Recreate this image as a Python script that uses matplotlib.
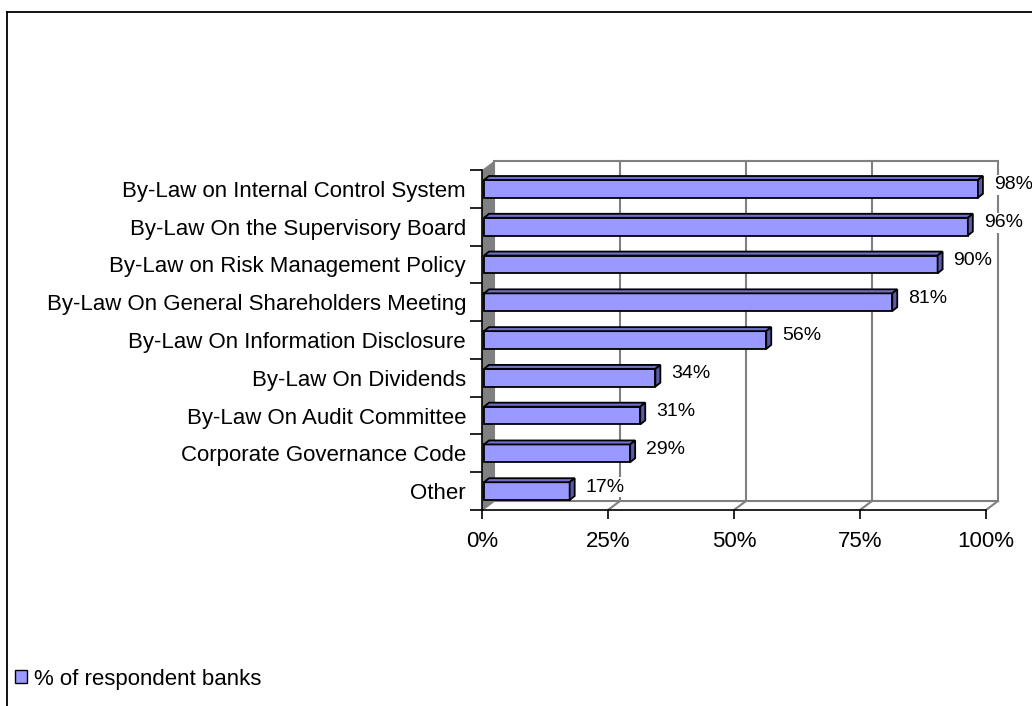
import numpy as np
import matplotlib
matplotlib.use("Agg")
import matplotlib.pyplot as plt
from matplotlib.patches import Rectangle, Polygon, Patch
from matplotlib.lines import Line2D
from matplotlib.transforms import Affine2D, IdentityTransform
from matplotlib.ticker import FixedLocator, FuncFormatter

plt.rcParams['font.family'] = ['Liberation Sans', 'DejaVu Sans']

# data (top to bottom)
categories = ["By-Law on Internal Control System",
              "By-Law On the Supervisory Board",
              "By-Law on Risk Management Policy",
              "By-Law On General Shareholders Meeting",
              "By-Law On Information Disclosure",
              "By-Law On Dividends",
              "By-Law On Audit Committee",
              "Corporate Governance Code",
              "Other"]
values = [98, 96, 90, 81, 56, 34, 31, 29, 17]
xticks = [0, 25, 50, 75, 100]
series_name = "% of respondent banks"

W, H = 1032, 706
fig = plt.figure(figsize=(W / 100, H / 100), dpi=100)

# outer frame (top and left only visible)
fig.add_artist(Line2D([7 / W, 1], [1 - 12 / H, 1 - 12 / H], transform=fig.transFigure, color='black', lw=1.3))
fig.add_artist(Line2D([7 / W, 7 / W], [0, 1 - 12 / H], transform=fig.transFigure, color='black', lw=1.3))

ax = fig.add_axes([482 / W, (H - 510) / H, 504 / W, 340 / H])
ax.patch.set_visible(False)
n = len(categories)
ax.set_xlim(0, 100)
ax.set_ylim(n - 0.5, -0.5)
ax.set_autoscale_on(False)

# 3D depth (pixels)
DX, DY = 12, 9
back = ax.transData + Affine2D().translate(DX, DY)
ident = IdentityTransform()
grey = '#808080'

def disp(x, y, ox=0, oy=0):
    p = ax.transData.transform((x, y))
    return (p[0] + ox, p[1] + oy)

# back wall + gridlines
ax.add_patch(Rectangle((0, -0.5), 100, n, transform=back, facecolor='white',
                       edgecolor=grey, lw=1.5, zorder=0, clip_on=False))
for g in xticks[1:-1]:
    ax.plot([g, g], [-0.5, n - 0.5], transform=back, color=grey, lw=1.5, zorder=0.5, clip_on=False)

# floor lines
for g in xticks:
    p0 = disp(g, n - 0.5)
    p1 = disp(g, n - 0.5, DX, DY)
    ax.plot([p0[0], p1[0]], [p0[1], p1[1]], transform=ident, color=grey, lw=1.5, zorder=0.6, clip_on=False)

# left wall
wall = [disp(0, n - 0.5), disp(0, -0.5), disp(0, -0.5, DX, DY), disp(0, n - 0.5, DX, DY)]
ax.add_patch(Polygon(wall, closed=True, transform=ident, facecolor='#808080',
                     edgecolor='none', zorder=1, clip_on=False))

# bars
h = 0.47
bx, by = 2, 0      # bar front offset
ddx, ddy = 5, 4    # bar depth
for i, v in enumerate(values):
    y0, y1 = i + h / 2, i - h / 2  # y0 lower on screen (inverted axis)
    ax.add_patch(Polygon([disp(0, y0, bx, by), disp(v, y0, bx, by), disp(v, y1, bx, by), disp(0, y1, bx, by)],
                         transform=ident, facecolor='#9999FF', edgecolor='black', lw=1.3, zorder=3, clip_on=False))
    ax.add_patch(Polygon([disp(0, y1, bx, by), disp(v, y1, bx, by), disp(v, y1, bx + ddx, by + ddy),
                          disp(0, y1, bx + ddx, by + ddy)],
                         transform=ident, facecolor='#7070C8', edgecolor='black', lw=1.3, zorder=3, clip_on=False))
    ax.add_patch(Polygon([disp(v, y0, bx, by), disp(v, y1, bx, by), disp(v, y1, bx + ddx, by + ddy),
                          disp(v, y0, bx + ddx, by + ddy)],
                         transform=ident, facecolor='#5A5AA8', edgecolor='black', lw=1.3, zorder=3, clip_on=False))
    lx, ly = disp(v, i, bx + ddx + 11, 4)
    ax.text(lx, ly, f"{v}%", transform=ident, ha='left', va='center', fontsize=14, zorder=4,
            bbox=dict(facecolor='white', edgecolor='none', pad=1), clip_on=False)

# axes styling
for s in ['top', 'right']:
    ax.spines[s].set_visible(False)
for s in ['left', 'bottom']:
    ax.spines[s].set_color('black')
    ax.spines[s].set_linewidth(1.2)
    ax.spines[s].set_zorder(5)

ax.set_xticks(xticks)
ax.xaxis.set_major_formatter(FuncFormatter(lambda x, p: f"{int(x)}%"))
ax.tick_params(axis='x', direction='out', length=6.5, width=1.2, pad=8.5, labelsize=16)

ax.set_yticks(np.arange(n))
ax.set_yticklabels(categories)
ax.yaxis.set_minor_locator(FixedLocator(np.arange(n + 1) - 0.5))
ax.tick_params(axis='y', which='major', length=0, pad=11.5, labelsize=16)
ax.tick_params(axis='y', which='minor', direction='out', length=8.6, width=1.2)

# legend
fig.legend(handles=[Patch(facecolor='#9999FF', edgecolor='black')], labels=[series_name],
           loc='center left', bbox_to_anchor=(15 / W, 1 - 679 / H), frameon=False,
           fontsize=16, handlelength=0.55, handleheight=0.55, handletextpad=0.3,
           borderpad=0, borderaxespad=0)

fig.savefig("out.png", dpi=100)
